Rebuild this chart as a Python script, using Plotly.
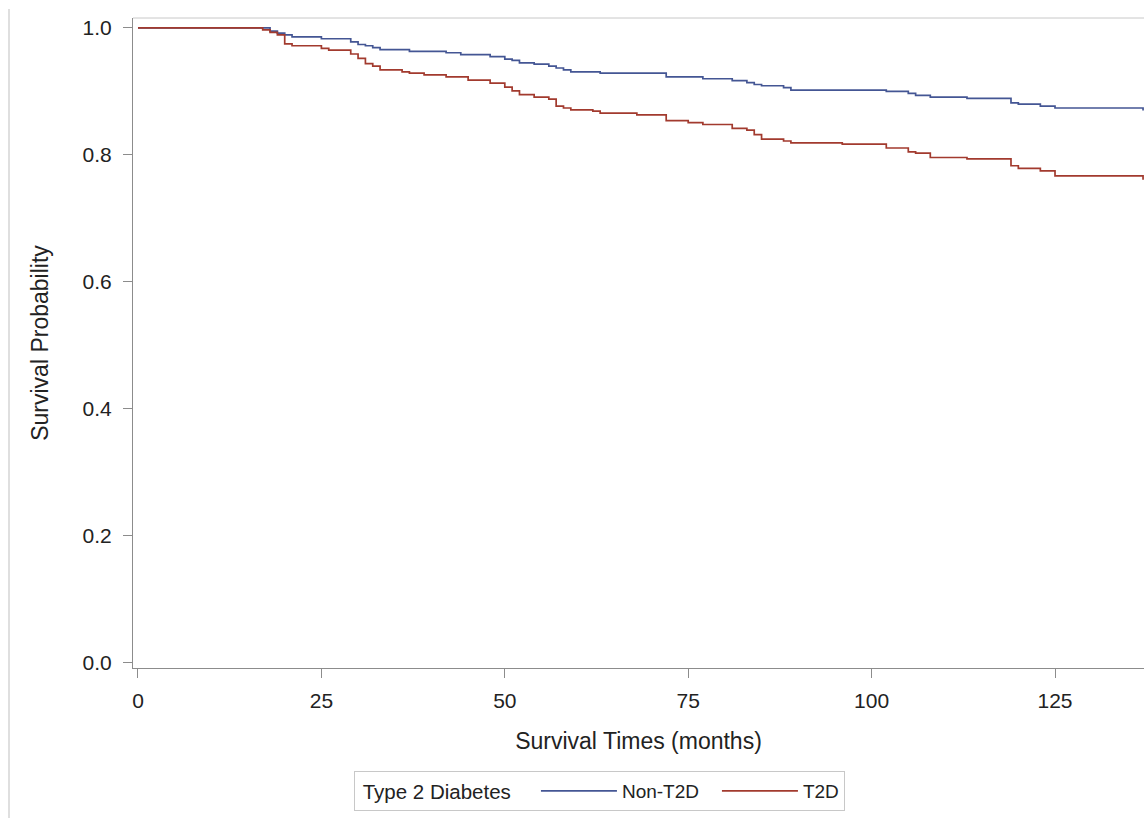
import plotly.graph_objects as go

# Kaplan-Meier style survival estimates by diabetes status
months_non_t2d = [0, 18, 19, 20, 21, 25, 29, 30, 31, 32, 33, 37, 42, 44, 48, 50, 51, 52, 54, 56, 57,
                  58, 59, 63, 72, 77, 81, 83, 84, 85, 88, 89, 102, 105, 106, 108, 113, 119, 120,
                  123, 125, 137]
surv_non_t2d = [1.0, 0.995, 0.992, 0.989, 0.986, 0.983, 0.978, 0.974, 0.972, 0.969, 0.966, 0.963,
                0.961, 0.958, 0.955, 0.951, 0.949, 0.945, 0.943, 0.940, 0.937, 0.934, 0.931, 0.929,
                0.923, 0.920, 0.917, 0.914, 0.911, 0.909, 0.906, 0.902, 0.900, 0.897, 0.894, 0.891,
                0.889, 0.882, 0.880, 0.877, 0.874, 0.870]

months_t2d = [0, 17, 18, 19, 20, 21, 25, 26, 29, 30, 31, 32, 33, 36, 37, 39, 42, 45, 48, 50, 51, 52,
              54, 56, 57, 58, 59, 62, 63, 68, 72, 75, 77, 81, 83, 84, 85, 88, 89, 96, 102, 105,
              106, 108, 113, 119, 120, 123, 125, 137]
surv_t2d = [1.0, 0.997, 0.993, 0.989, 0.975, 0.972, 0.968, 0.965, 0.959, 0.952, 0.944, 0.940,
            0.934, 0.931, 0.929, 0.926, 0.923, 0.918, 0.913, 0.907, 0.901, 0.895, 0.891, 0.888,
            0.877, 0.874, 0.871, 0.869, 0.866, 0.863, 0.854, 0.851, 0.848, 0.842, 0.839, 0.832,
            0.825, 0.822, 0.819, 0.817, 0.811, 0.805, 0.803, 0.796, 0.794, 0.783, 0.779, 0.775,
            0.767, 0.761]

x_ticks = [0, 25, 50, 75, 100, 125]
y_ticks = [0.0, 0.2, 0.4, 0.6, 0.8, 1.0]

FONT = "Liberation Sans, Arial, sans-serif"
TEXT = "#222222"
AXIS = "#8c8c8c"
NBSP = "\u00a0"

fig = go.Figure()
fig.add_trace(go.Scatter(
    x=months_non_t2d, y=surv_non_t2d, mode="lines", name="Non-T2D",
    line=dict(shape="hv", color="#445694", width=1.7),
    legendwidth=90,
))
fig.add_trace(go.Scatter(
    x=months_t2d, y=surv_t2d, mode="lines", name="T2D",
    line=dict(shape="hv", color="#A23A2E", width=1.7),
))

fig.update_layout(
    width=1144, height=818,
    margin=dict(l=133, r=0, t=18, b=150),
    paper_bgcolor="white", plot_bgcolor="white",
    font=dict(family=FONT, color=TEXT, size=20),
    showlegend=True,
    legend=dict(
        orientation="h",
        x=(354 - 133) / 1011, xanchor="left",
        y=(668 - 771) / 650, yanchor="top",
        title=dict(text=NBSP + "Type 2 Diabetes" + NBSP * 3, side="left",
                   font=dict(size=20.5)),
        font=dict(size=19),
        bordercolor="#c8c8c8", borderwidth=1, bgcolor="white",
        itemwidth=76,
    ),
    xaxis=dict(
        range=[-0.68, 137.13], tickvals=x_ticks, ticktext=[str(v) for v in x_ticks],
        showgrid=False, zeroline=False,
        showline=True, linecolor=AXIS, linewidth=1,
        ticks="outside", ticklen=9, tickcolor=AXIS, tickwidth=1,
        tickfont=dict(size=21, color=TEXT), ticklabelstandoff=5,
        title=dict(text="Survival Times (months)", font=dict(size=23, color=TEXT), standoff=21),
    ),
    yaxis=dict(
        range=[-0.0079, 1.0157], tickvals=y_ticks, ticktext=[f"{v:.1f}" for v in y_ticks],
        showgrid=False, zeroline=False,
        showline=True, linecolor=AXIS, linewidth=1,
        ticks="outside", ticklen=9, tickcolor=AXIS, tickwidth=1,
        tickfont=dict(size=21, color=TEXT), ticklabelstandoff=7,
        title=dict(text="Survival Probability", font=dict(size=23, color=TEXT), standoff=27),
    ),
    shapes=[
        # top edge of the plot frame
        dict(type="line", xref="paper", yref="paper", x0=0, x1=1, y0=1, y1=1,
             line=dict(color="#c8c8c8", width=1)),
        # page border on the left
        dict(type="line", xref="paper", yref="paper",
             x0=(9 - 133) / 1011, x1=(9 - 133) / 1011,
             y0=(668 - 9) / 650, y1=(668 - 818) / 650,
             line=dict(color="#d4d4d4", width=1.5)),
    ],
)

fig.write_html("out.html")
